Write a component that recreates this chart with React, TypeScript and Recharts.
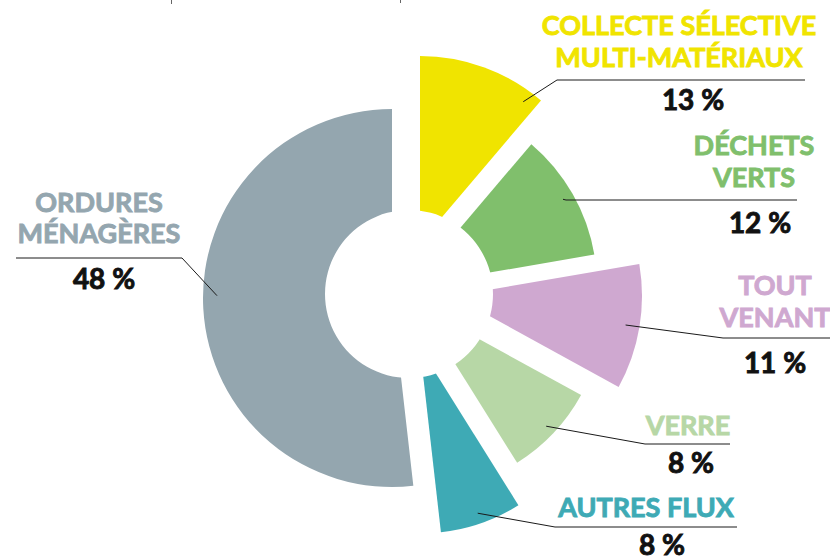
import { PieChart, Pie, Cell } from 'recharts'

// slices in drawing order, clockwise from 12 o'clock
const categories = [
  'COLLECTE SÉLECTIVE MULTI-MATÉRIAUX',
  'DÉCHETS VERTS',
  'TOUT VENANT',
  'VERRE',
  'AUTRES FLUX',
  'ORDURES MÉNAGÈRES',
]
const labelRows = [
  ['COLLECTE SÉLECTIVE', 'MULTI-MATÉRIAUX'],
  ['DÉCHETS', 'VERTS'],
  ['TOUT', 'VENANT'],
  ['VERRE'],
  ['AUTRES FLUX'],
  ['ORDURES', 'MÉNAGÈRES'],
]
const percentLabels = [13, 12, 11, 8, 8, 48]
// share of the ring as it is drawn in the picture (not strictly proportional)
const drawnShare = [11.2, 11.1, 10.7, 8.1, 7.1, 51.8]

const data = categories.map((name, i) => ({
  name,
  share: drawnShare[i],
  pct: percentLabels[i],
}))

const COLORS = ['#F0E400', '#80BF6C', '#CFA8D0', '#B7D7A6', '#3EAAB5', '#94A6AF']

// each slice is pulled out on its own centre
const SLICE = [
  { cx: 420, cy: 243, r: 187 },
  { cx: 411, cy: 286, r: 186 },
  { cx: 453, cy: 296, r: 189 },
  { cx: 419, cy: 306, r: 185 },
  { cx: 420, cy: 348, r: 185.5 },
  { cx: 392, cy: 298, r: 189 },
]
const HOLE = { cx: 409, cy: 294, r: 84 }

const LABEL = [
  { x: 679, rows: [35, 67], pctX: 693, pctY: 110, turn: 16, elbow: [557, 80], end: 805 },
  { x: 754, rows: [155, 187], pctX: 760, pctY: 233, turn: 0, elbow: [566, 200], end: 797 },
  { x: 775, rows: [295, 327], pctX: 775, pctY: 373, turn: 0, elbow: [723, 338], end: 830 },
  { x: 688, rows: [435], pctX: 691, pctY: 473, turn: 0, elbow: [645, 444], end: 730 },
  { x: 646, rows: [517], pctX: 662, pctY: 555, turn: 0, elbow: [555, 527], end: 737 },
  { x: 99, rows: [212, 243], pctX: 104, pctY: 289, turn: 4, elbow: [182, 258], end: 16 },
]

const RADIAN = Math.PI / 180
const FONT = 'Lato, "Open Sans", sans-serif'

function makeLabel(slice: number) {
  return (props: any) => {
    if (props.index !== slice) return null
    const { cx, cy, midAngle } = props
    const cfg = LABEL[slice]
    const a = (midAngle - cfg.turn) * RADIAN
    const ax = cx + 175 * Math.cos(a)
    const ay = cy - 175 * Math.sin(a)
    const [ex, ey] = cfg.elbow
    return (
      <g key={`lbl-${slice}`}>
        <polyline
          points={`${ax},${ay} ${ex},${ey} ${cfg.end},${ey}`}
          fill="none"
          stroke="#1a1a1a"
          strokeWidth={1}
        />
        {labelRows[slice].map((row, k) => (
          <text
            key={row}
            x={cfg.x}
            y={cfg.rows[k]}
            textAnchor="middle"
            fontFamily={FONT}
            fontWeight={700}
            fontSize={27}
            fill={COLORS[slice]}
            stroke={COLORS[slice]}
            strokeWidth={0.9}
          >
            {row}
          </text>
        ))}
        <text
          x={cfg.pctX}
          y={cfg.pctY}
          textAnchor="middle"
          fontFamily={FONT}
          fontWeight={700}
          fontSize={28}
          fill="#111"
          stroke="#111"
          strokeWidth={0.9}
        >
          {`${percentLabels[slice]}\u00a0%`}
        </text>
      </g>
    )
  }
}

export default function App() {
  return (
    <div style={{ position: 'absolute', left: 0, top: 0, width: 830, height: 558, background: '#fff' }}>
      <div style={{ position: 'absolute', left: 171, top: 0, width: 1, height: 4, background: '#666' }} />
      <div style={{ position: 'absolute', left: 400, top: 0, width: 1, height: 3, background: '#666' }} />
      <PieChart width={830} height={558} margin={{ top: 0, right: 0, bottom: 0, left: 0 }}>
        {SLICE.map((s, i) => (
          <Pie
            key={`pie-${i}`}
            data={data}
            dataKey="share"
            nameKey="name"
            cx={s.cx}
            cy={s.cy}
            innerRadius={0}
            outerRadius={s.r}
            startAngle={90}
            endAngle={-270}
            stroke="none"
            label={makeLabel(i)}
            labelLine={false}
            isAnimationActive={false}
          >
            {data.map((_, j) => (
              <Cell key={`c-${j}`} fill={j === i ? COLORS[i] : 'none'} stroke="none" />
            ))}
          </Pie>
        ))}
        <Pie
          data={[{ name: 'hole', v: 1 }]}
          dataKey="v"
          cx={HOLE.cx}
          cy={HOLE.cy}
          innerRadius={0}
          outerRadius={HOLE.r}
          fill="#fff"
          stroke="none"
          isAnimationActive={false}
        />
      </PieChart>
    </div>
  )
}
